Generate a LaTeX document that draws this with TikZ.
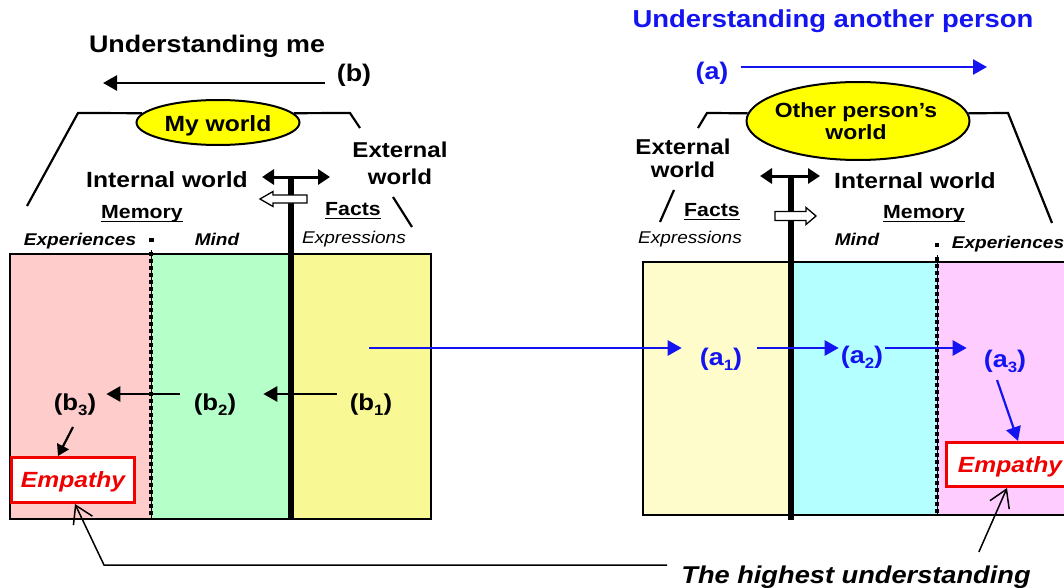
\documentclass[tikz,border=0pt]{standalone}
\usepackage{fontspec}
\setmainfont{Liberation Sans}[FakeStretch=1.12]
\usetikzlibrary{arrows.meta,shapes.geometric,calc}
\definecolor{pinkL}{RGB}{255,204,204}
\definecolor{greenL}{RGB}{181,255,200}
\definecolor{yelL}{RGB}{248,248,148}
\definecolor{creamR}{RGB}{255,252,204}
\definecolor{cyanR}{RGB}{180,255,255}
\definecolor{pinkR}{RGB}{255,204,255}
\definecolor{myblue}{RGB}{20,20,240}
\definecolor{myred}{RGB}{240,0,0}
\definecolor{ellY}{RGB}{255,255,0}
\newcommand\fsz[1]{\fontsize{#1}{#1}\selectfont}
\newcommand\ul[1]{\leavevmode\setbox0\hbox{#1}\vtop{\hbox{\raisebox{0pt}[\ht0][0pt]{#1}}\kern2.5pt\hrule height1.6pt}}
\newcommand\sbs[1]{\raisebox{-0.22em}{\fsz{15}#1}}
\begin{document}
\begin{tikzpicture}[x=1pt,y=-1pt,
  txt/.style={inner sep=0pt,anchor=base},
  bigb/.style={txt,font=\bfseries\fsz{22}},
  arr/.style={line width=2.6pt,-{Triangle[length=14pt,width=15pt]}},
  sarr/.style={line width=2.2pt,-{Triangle[length=11pt,width=13pt]}},
  barr/.style={arr,draw=myblue},
  darr/.style={line width=3pt,{Triangle[length=12pt,width=15pt]}-{Triangle[length=12pt,width=15pt]}},
  openarr/.style={line width=1.5pt,-{Straight Barb[length=17pt,width=21pt]}},
  trap/.style={line width=2.2pt},
  ell/.style={ellipse,draw,line width=2pt,fill=ellY,inner sep=0pt},
  empbox/.style={draw=myred,line width=3pt,fill=white,inner sep=0pt,text=myred,text depth=0pt,font=\bfseries\itshape\fsz{22}},
  hollow/.style={line width=1.3pt,fill=white},
  dotl/.style={line width=4.5pt,dash pattern=on 4pt off 3pt}
]
\useasboundingbox (0,0) rectangle (1064,588);
\clip (0,0) rectangle (1064,588);
\fill[white] (0,0) rectangle (1064,588);

% ---------- left box ----------
\fill[pinkL] (10,254) rectangle (151,519);
\fill[greenL] (151,254) rectangle (291,519);
\fill[yelL] (291,254) rectangle (431,519);
\draw[line width=1.5pt] (10,254) rectangle (431,519);
\draw[line width=1pt] (151,250) -- (151,519);
\draw[dotl] (151,252) -- (151,519);
\fill (149,237.5) rectangle (153.5,242);
\draw[line width=5.5pt] (291,177) -- (291,519);
\draw[darr] (262,177) -- (330,177);
\draw[hollow] (260,199) -- (273,191.5) -- (273,195) -- (307,195) -- (307,203) -- (273,203) -- (273,206.5) -- cycle;

% ---------- right box ----------
\fill[creamR] (643,262) rectangle (791,515);
\fill[cyanR] (791,262) rectangle (937,515);
\fill[pinkR] (937,262) rectangle (1090,515);
\draw[line width=1.5pt] (643,262) rectangle (1090,515);
\draw[line width=1pt] (937,255) -- (937,515);
\draw[dotl] (937,257) -- (937,515);
\fill (934.8,242.5) rectangle (939.2,247);
\draw[line width=5.5pt] (791,176) -- (791,520);
\draw[darr] (760,176) -- (820,176);
\draw[hollow] (816,216) -- (806,207.5) -- (806,211.5) -- (775,211.5) -- (775,220.5) -- (806,220.5) -- (806,224.5) -- cycle;

% ---------- worlds ----------
\node[ell,minimum width=163pt,minimum height=45pt] (myw) at (218,122.5) {};
\node[bigb] (mywt) at (218,132) {My world};
\draw[trap] (27,206) -- (78,113) -- (myw.173);
\draw[trap] (myw.7) -- (350,113) -- (360,128);
\draw[trap] (393,197) -- (412,227);

\node[ell,minimum width=223pt,minimum height=78pt] (opw) at (858,121) {};
\node[txt,align=center,font=\bfseries\fontsize{20.5}{22.5}\selectfont] (opwt) at (856,140) {Other person's\\world};
\draw[trap] (698,128) -- (707,113) -- (opw.176);
\draw[trap] (opw.4) -- (1008,113) -- (1052,223);
\draw[trap] (660,222) -- (674,190);

% ---------- titles ----------
\node[txt,font=\bfseries\fsz{24}] (tme) at (207,53) {Understanding me};
\node[txt,font=\bfseries\fsz{24}] (bl) at (354,82) {(b)};
\coordinate (bend) at (103,83);
\draw[arr] ([xshift=-12pt,yshift=-1pt]bl.base west) -- (bend);

\node[txt,font=\bfseries\fsz{24.5},text=myblue] (tother) at (833,28) {Understanding another person};
\node[txt,font=\bfseries\fsz{24},text=myblue] (al) at (712,80) {(a)};
\coordinate (aend) at (987,67);
\draw[barr] ([xshift=12pt,yshift=13pt]al.base east) -- (aend);

% ---------- left texts ----------
\node[bigb] (intL) at (167,187) {Internal world};
\node[txt,align=center,font=\bfseries\fontsize{21.5}{27}\selectfont] (extL) at (400,184) {External\\world};
\node[txt,font=\bfseries\fsz{19}] (memL) at (142,218) {\ul{Memory}};
\node[txt,font=\bfseries\fsz{19}] (factL) at (353,215) {\ul{Facts}};
\node[txt,font=\bfseries\itshape\fsz{17}] (expL) at (80,245) {Experiences};
\node[txt,font=\bfseries\itshape\fsz{17}] (mindL) at (217,245) {Mind};
\node[txt,font=\itshape\fsz{17}] (exprL) at (354,243) {Expressions};

% ---------- right texts ----------
\node[txt,align=center,font=\bfseries\fontsize{21.5}{23.5}\selectfont] (extR) at (683,178) {External\\world};
\node[bigb] (intR) at (915,188) {Internal world};
\node[txt,font=\bfseries\fsz{19}] (factR) at (712,216) {\ul{Facts}};
\node[txt,font=\bfseries\fsz{19}] (memR) at (924,218) {\ul{Memory}};
\node[txt,font=\itshape\fsz{17}] (exprR) at (690,243) {Expressions};
\node[txt,font=\bfseries\itshape\fsz{17}] (mindR) at (857,245) {Mind};
\node[txt,font=\bfseries\itshape\fsz{17}] (expR) at (1008,248) {Experiences};

% ---------- b labels ----------
\node[txt,font=\bfseries\fsz{23}] (b1) at (371,410) {(b\sbs{1})};
\node[txt,font=\bfseries\fsz{23}] (b2) at (215,410) {(b\sbs{2})};
\node[txt,font=\bfseries\fsz{23}] (b3) at (75,410) {(b\sbs{3})};
\draw[arr] ([xshift=-13pt,yshift=16pt]b1.base west) -- ([xshift=27pt,yshift=16pt]b2.base east);
\draw[arr] ([xshift=-14pt,yshift=16pt]b2.base west) -- ([xshift=10pt,yshift=16pt]b3.base east);

% ---------- a labels ----------
\node[txt,font=\bfseries\fsz{24},text=myblue] (a1) at (721,365) {(a\sbs{1})};
\node[txt,font=\bfseries\fsz{24},text=myblue] (a2) at (862,363) {(a\sbs{2})};
\node[txt,font=\bfseries\fsz{24},text=myblue] (a3) at (1005,367) {(a\sbs{3})};
\coordinate (src) at (369,348);
\draw[barr] (src) -- ([xshift=-18pt,yshift=17pt]a1.base west);
\draw[barr] ([xshift=15pt,yshift=17pt]a1.base east) -- ([xshift=-2pt,yshift=15pt]a2.base west);
\draw[barr] ([xshift=2pt,yshift=15pt]a2.base east) -- ([xshift=-17pt,yshift=19pt]a3.base west);

% ---------- empathy ----------
\node[empbox,minimum width=123pt,minimum height=45pt] (empL) at (73,480) {Empathy};
\node[empbox,minimum width=127pt,minimum height=44pt] (empR) at (1010,464.5) {Empathy};
\draw[sarr] ([xshift=-2pt,yshift=-17pt]b3.base) -- ([xshift=-15pt]empL.north);
\draw[barr,line width=2.2pt] ([xshift=-8pt,yshift=-13pt]a3.base) -- ([xshift=8pt]empR.north);

% ---------- highest understanding ----------
\node[txt,font=\bfseries\itshape\fsz{24.3}] (hu) at (856,583) {The highest understanding};
\coordinate (hcorner) at (104,565);
\draw[openarr] ([xshift=-14pt,yshift=18pt]hu.base west) -- (hcorner) -- ([xshift=2pt]empL.south);
\draw[openarr] ([xshift=-52pt,yshift=31pt]hu.base east) -- ([xshift=-3pt]empR.south);
\end{tikzpicture}
\end{document}
